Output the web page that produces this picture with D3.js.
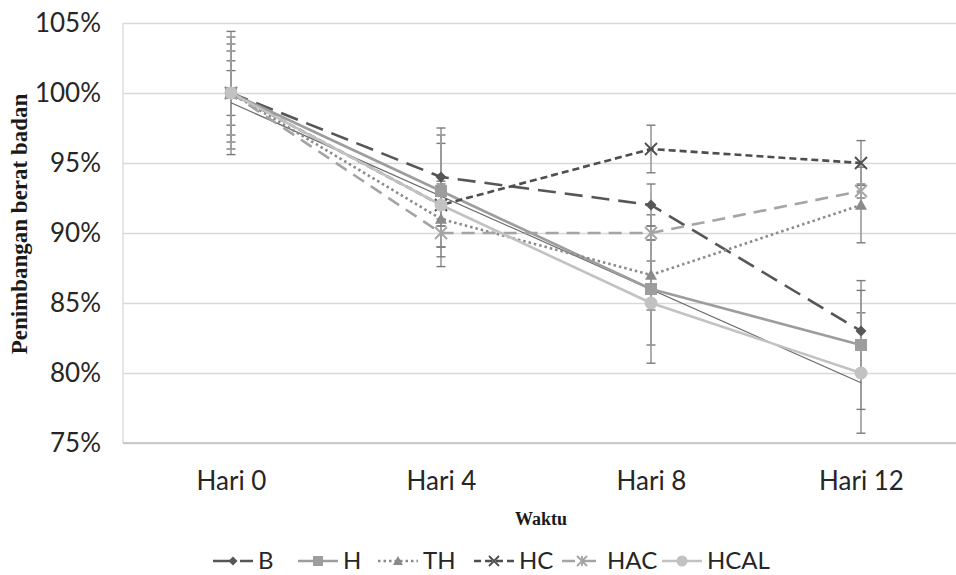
<!DOCTYPE html>
<html><head><meta charset="utf-8">
<script src="https://cdn.jsdelivr.net/npm/d3@7"></script>
<style>
html,body{margin:0;padding:0;background:#fff;}
svg{display:block;}
</style></head>
<body>
<svg id="chart" width="956" height="575"></svg>
<script>
// ---------- data ----------
const categories = ["Hari 0", "Hari 4", "Hari 8", "Hari 12"];
const seriesNames = ["B", "H", "TH", "HC", "HAC", "HCAL"];
const valB    = [100, 94, 92, 83];
const valH    = [100, 93, 86, 82];
const valTH   = [100, 91, 87, 92];
const valHC   = [100, 92, 96, 95];
const valHAC  = [100, 90, 90, 93];
const valHCAL = [100, 92, 85, 80];
const errB    = [4.4, 3.5, 1.5, 2.9];
const errH    = [4.0, 4.0, 5.3, 4.6];
const errTH   = [3.5, 2.7, 2.5, 2.7];
const errHC   = [3.0, 1.5, 1.7, 1.6];
const errHAC  = [2.3, 1.0, 0.5, 0.5];
const errHCAL = [1.6, 4.4, 3.0, 4.3];
const trendCats = ["Hari 0", "Hari 12"];
const trendHCAL = [99.3, 79.3];
const yTicks = [75, 80, 85, 90, 95, 100, 105];
const yTitle = "Penimbangan berat badan";
const xTitle = "Waktu";

// ---------- styles (layout, not data) ----------
const styles = {
  B:    {color: "#565656", dash: "18,9",  marker: "diamond"},
  H:    {color: "#9d9d9d", dash: null,    marker: "square"},
  TH:   {color: "#8a8a8a", dash: "2.5,3", marker: "triangle"},
  HC:   {color: "#4e4e4e", dash: "7,4",   marker: "x"},
  HAC:  {color: "#a4a4a4", dash: "13,8",  marker: "star"},
  HCAL: {color: "#c2c2c2", dash: null,    marker: "circle"}
};
const values = {B: valB, H: valH, TH: valTH, HC: valHC, HAC: valHAC, HCAL: valHCAL};
const errors = {B: errB, H: errH, TH: errTH, HC: errHC, HAC: errHAC, HCAL: errHCAL};
const legendX = [213, 298, 378, 474, 562, 662];

const svg = d3.select("#chart");
const plotL = 123, plotR = 956, plotT = 23, plotB = 443;

const x = d3.scalePoint().domain(categories).range([231, 861]);
const y = d3.scaleLinear().domain([75, 105]).range([plotB, plotT]);

const tickFont = "Lato, 'Open Sans', sans-serif";

// gridlines + y tick labels
const yAxis = svg.append("g").attr("transform", `translate(${plotL},0)`)
  .call(d3.axisLeft(y).tickValues(yTicks).tickSize(-(plotR - plotL)).tickPadding(22)
    .tickFormat(d => d + "%"));
yAxis.select(".domain").remove();
yAxis.selectAll(".tick line").attr("stroke", "#d9d9d9").attr("stroke-width", 1.3);
yAxis.selectAll(".tick text").attr("font-family", tickFont).attr("font-size", 26)
  .attr("fill", "#262626");

// plot border left
svg.append("line").attr("x1", plotL).attr("x2", plotL).attr("y1", plotT).attr("y2", plotB)
  .attr("stroke", "#d9d9d9").attr("stroke-width", 1.3);

// x axis
const xAxis = svg.append("g").attr("transform", `translate(0,${plotB})`)
  .call(d3.axisBottom(x).tickSize(0).tickPadding(29));
xAxis.select(".domain").attr("d", `M${plotL},0H${plotR}`).attr("stroke", "#bfbfbf").attr("stroke-width", 1.3);
xAxis.selectAll(".tick text").attr("font-family", tickFont).attr("font-size", 26).attr("fill", "#262626");

// axis titles
svg.append("text").attr("x", 541).attr("y", 525).attr("text-anchor", "middle")
  .attr("font-family", "'Liberation Serif', 'DejaVu Serif', serif").attr("font-weight", "bold")
  .attr("font-size", 18).attr("fill", "#1a1a1a").text(xTitle);
svg.append("text").attr("transform", "translate(27,224) rotate(-90)").attr("text-anchor", "middle")
  .attr("font-family", "'Liberation Serif', 'DejaVu Serif', serif").attr("font-weight", "bold")
  .attr("font-size", 23).attr("fill", "#1a1a1a").text(yTitle);

// marker drawing
function drawMarker(g, type, color, size) {
  const s = size / 2;
  if (type === "diamond") {
    g.append("path").attr("d", `M0,${-s}L${s},0L0,${s}L${-s},0Z`).attr("fill", color);
  } else if (type === "square") {
    g.append("rect").attr("x", -s).attr("y", -s).attr("width", size).attr("height", size).attr("fill", color);
  } else if (type === "triangle") {
    g.append("path").attr("d", `M0,${-s}L${s},${s * 0.8}L${-s},${s * 0.8}Z`).attr("fill", color);
  } else if (type === "circle") {
    g.append("circle").attr("r", s).attr("fill", color);
  } else if (type === "x") {
    g.append("path").attr("d", `M${-s},${-s}L${s},${s}M${-s},${s}L${s},${-s}`)
      .attr("stroke", color).attr("stroke-width", 1.8).attr("fill", "none");
  } else if (type === "star") {
    g.append("path").attr("d", `M${-s},${-s}L${s},${s}M${-s},${s}L${s},${-s}M0,${-s}L0,${s}`)
      .attr("stroke", color).attr("stroke-width", 1.8).attr("fill", "none");
  }
}

const markerSize = {diamond: 11, square: 12, triangle: 12, circle: 13, x: 12, star: 12};

// error bars (drawn first, behind lines)
const eb = svg.append("g");
seriesNames.slice().reverse().forEach(name => {
  categories.forEach((c, i) => {
    const v = values[name][i], e = errors[name][i];
    const cx = x(c);
    eb.append("line").attr("x1", cx).attr("x2", cx).attr("y1", y(v - e)).attr("y2", y(v + e))
      .attr("stroke", "#9a9a9a").attr("stroke-width", 1.6);
    [v - e, v + e].forEach(val => {
      eb.append("line").attr("x1", cx - 4.5).attr("x2", cx + 4.5).attr("y1", y(val)).attr("y2", y(val))
        .attr("stroke", "#7a7a7a").attr("stroke-width", 1.4);
    });
  });
});

// trendline for HCAL
svg.append("path")
  .attr("d", d3.line().x((d, i) => x(trendCats[i])).y(d => y(d))(trendHCAL))
  .attr("fill", "none").attr("stroke", "#6a6a6a").attr("stroke-width", 1.2);

// series lines
const line = d3.line().x((d, i) => x(categories[i])).y(d => y(d));
seriesNames.forEach(name => {
  const st = styles[name];
  svg.append("path").attr("d", line(values[name])).attr("fill", "none")
    .attr("stroke", st.color).attr("stroke-width", 2.6)
    .attr("stroke-dasharray", st.dash).attr("stroke-linejoin", "round");
});
// markers
seriesNames.forEach(name => {
  const st = styles[name];
  values[name].forEach((v, i) => {
    const g = svg.append("g").attr("transform", `translate(${x(categories[i])},${y(v)})`);
    drawMarker(g, st.marker, st.color, markerSize[st.marker]);
  });
});

// legend
const legY = 561;
seriesNames.forEach((name, i) => {
  const st = styles[name];
  const lx = legendX[i];
  const g = svg.append("g");
  g.append("line").attr("x1", lx).attr("x2", lx + 40).attr("y1", legY).attr("y2", legY)
    .attr("stroke", st.color).attr("stroke-width", 2.6).attr("stroke-dasharray", st.dash);
  const mg = g.append("g").attr("transform", `translate(${lx + 20},${legY})`);
  drawMarker(mg, st.marker, st.color, markerSize[st.marker] - 2);
  g.append("text").attr("x", lx + 45).attr("y", legY).attr("dy", "0.35em")
    .attr("font-family", tickFont).attr("font-size", 24).attr("fill", "#262626").text(name);
});
</script>
</body></html>
